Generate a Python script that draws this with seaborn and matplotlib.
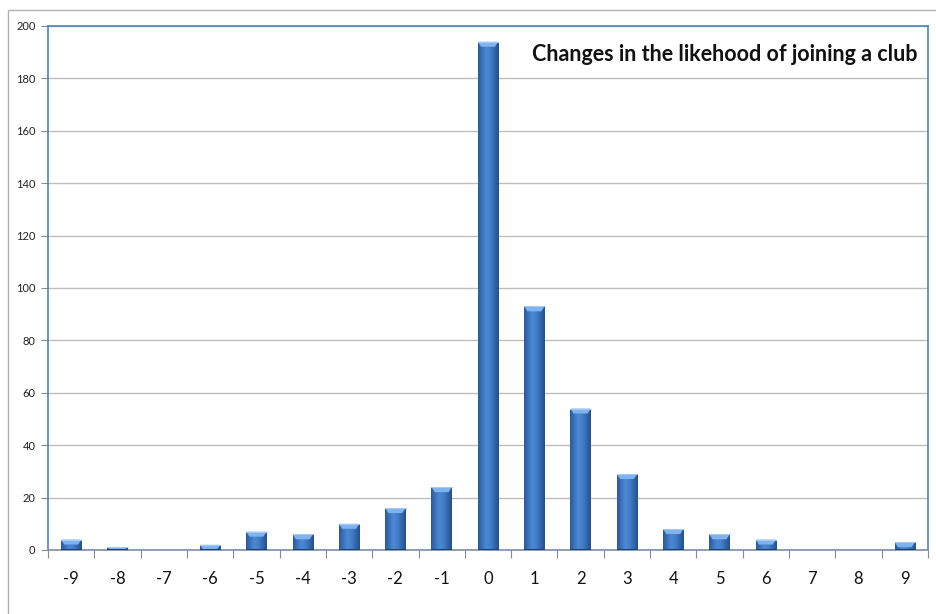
import numpy as np
import pandas as pd
import matplotlib
matplotlib.use("Agg")
import matplotlib.pyplot as plt
import seaborn as sns
from matplotlib.patches import Rectangle, Polygon
from matplotlib.colors import LinearSegmentedColormap

# Score changes and how many respondents fall in each
changes = [-9, -8, -7, -6, -5, -4, -3, -2, -1, 0, 1, 2, 3, 4, 5, 6, 7, 8, 9]
counts = [4, 1, 0, 2, 7, 6, 10, 16, 24, 194, 93, 54, 29, 8, 6, 4, 0, 0, 3]
y_ticks = list(range(0, 201, 20))
title = "Changes in the likehood of joining a club"

sns.set_theme(style="white")
plt.rcParams["font.family"] = ["Lato", "DejaVu Sans"]

fig = plt.figure(figsize=(9.36, 6.14), dpi=100)
ax = fig.add_axes([48 / 936, 1 - 550 / 614, 880 / 936, 524 / 614])

df = pd.DataFrame({"change": [str(c) for c in changes], "count": counts})
sns.barplot(data=df, x="change", y="count", color="#3a72bb", width=0.44,
            saturation=1, ax=ax, edgecolor="none", zorder=3)

ax.set_ylim(0, 200)
ax.set_xlim(-0.5, len(changes) - 0.5)
ax.set_yticks(y_ticks)
ax.set_yticklabels([str(v) for v in y_ticks], fontsize=8, color="#222222")
ax.set_xlabel("")
ax.set_ylabel("")
ax.tick_params(axis="x", length=0, pad=15, labelsize=12, labelcolor="#111111")
ax.tick_params(axis="y", length=5, width=0.8, color="#8a8a8a", pad=4, left=True)
ax.set_xticks(np.arange(-0.5, len(changes), 1.0), minor=True)
ax.tick_params(axis="x", which="minor", length=6, width=0.8, color="#8a8a8a", bottom=True)

ax.grid(axis="y", color="#bdbdbd", linewidth=1.0, zorder=0)
ax.set_axisbelow(True)
for side in ["left", "top", "right"]:
    ax.spines[side].set_color("#4f81bd")
    ax.spines[side].set_linewidth(1.2)
ax.spines["bottom"].set_color("#7d8ea8")
ax.spines["bottom"].set_linewidth(1.2)

# Cylinder-like shading on every bar
shade = LinearSegmentedColormap.from_list(
    "bar_shade", ["#2a5898", "#3a72bb", "#4d89d3", "#437fc8", "#3366ab", "#24508c"])
grad = np.linspace(0, 1, 256).reshape(1, -1)
per_px = 200 / 524.0
for patch, val in zip(ax.patches, counts):
    x0 = patch.get_x()
    w = patch.get_width()
    h = patch.get_height()
    if h <= 0:
        continue
    im = ax.imshow(grad, cmap=shade, aspect="auto", extent=[x0, x0 + w, 0, h],
                   zorder=4, interpolation="bicubic")
    im.set_clip_path(patch)
    # lighter bevel at the top of the column
    cap = min(5 * per_px, h * 0.9)
    inset = w * 0.16
    top = Polygon([[x0, h], [x0 + w, h], [x0 + w - inset, h - cap], [x0 + inset, h - cap]],
                  closed=True, facecolor="#7fb3ee", edgecolor="none", zorder=5)
    ax.add_patch(top)
    ax.plot([x0, x0 + w], [h, h], color="#a4c9f4", lw=0.8, zorder=6)
    # darker foot of the column
    ax.add_patch(Rectangle((x0, 0), w, min(1.2 * per_px, h), facecolor="#1f4170",
                           edgecolor="none", zorder=5))
ax.set_xlim(-0.5, len(changes) - 0.5)
ax.set_ylim(0, 200)

ax.text(0.9885, 0.945, title, transform=ax.transAxes, ha="right", va="center",
        fontsize=15.5, fontweight="bold", color="#111111", zorder=7)

# outer chart frame
fig.patches.append(Rectangle((8 / 936, -0.1), 1.2, 1 - 10 / 614 + 0.1,
                             transform=fig.transFigure, fill=False,
                             edgecolor="#b0b0b0", linewidth=1.0))

fig.savefig("out.png", dpi=100)
